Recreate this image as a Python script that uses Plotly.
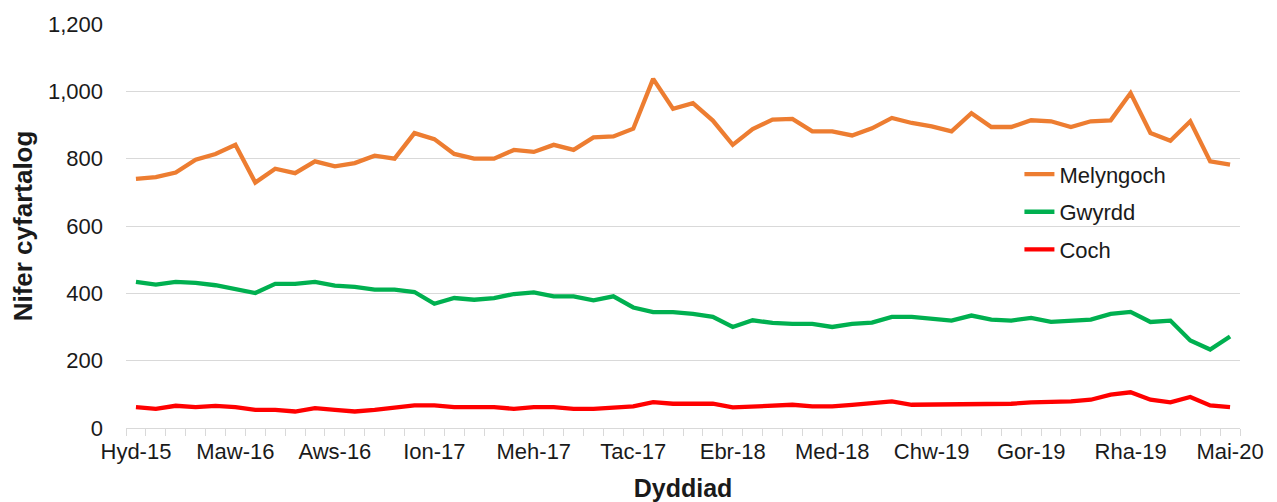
import plotly.graph_objects as go

months = ["Ion", "Chw", "Maw", "Ebr", "Mai", "Meh", "Gor", "Aws", "Med", "Hyd", "Tac", "Rha"]
# Oct 2015 .. May 2020 (56 months)
categories = []
m, y = 9, 2015
for _ in range(56):
    categories.append(f"{months[m]}-{str(y)[2:]}")
    m += 1
    if m == 12:
        m, y = 0, y + 1

melyngoch = [740, 745, 759, 797, 814, 841, 729, 770, 757, 792, 777, 787, 809, 800,
             876, 858, 814, 800, 800, 826, 820, 841, 826, 863, 866, 889, 1037, 948,
             965, 913, 841, 888, 916, 918, 881, 881, 869, 890, 921, 906, 896, 881,
             935, 894, 894, 914, 911, 894, 911, 914, 995, 876, 853, 911, 792, 782]
gwyrdd = [434, 426, 434, 431, 424, 413, 401, 428, 428, 434, 423, 419, 411, 411,
          404, 369, 386, 381, 386, 398, 403, 391, 391, 379, 391, 358, 344, 344,
          339, 330, 300, 320, 312, 309, 309, 300, 309, 313, 330, 330, 325, 319,
          334, 322, 319, 327, 315, 319, 322, 339, 345, 315, 319, 260, 233, 272]
coch = [62, 57, 66, 62, 66, 62, 54, 54, 49, 59, 54, 49, 54, 59,
        67, 67, 62, 62, 62, 57, 62, 62, 57, 57, 62, 64, 77, 72,
        72, 72, 61, 64, 69, 69, 64, 64, 69, 75, 79, 69, 69, 69,
        69, 72, 72, 76, 76, 79, 84, 99, 106, 84, 76, 92, 67, 62]

series = [("Melyngoch", melyngoch, "#ED7D31"),
          ("Gwyrdd", gwyrdd, "#00B050"),
          ("Coch", coch, "#FF0000")]

tick_text = [c if i % 5 == 0 else "" for i, c in enumerate(categories)]

fig = go.Figure()
for name, vals, col in series:
    fig.add_trace(go.Scatter(x=categories, y=vals, name=name, mode="lines",
                             legendgroup=name,
                             line=dict(color=col, width=4.3)))

font_family = "Liberation Sans, Arial, sans-serif"
fig.update_layout(
    width=1269, height=494,
    margin=dict(l=118, r=37, t=16, b=74),
    plot_bgcolor="white", paper_bgcolor="white",
    font=dict(family=font_family, size=22, color="#1a1a1a"),
    showlegend=True,
    legend=dict(x=0.802, y=0.535, xanchor="left", yanchor="middle",
                font=dict(size=22, color="#1a1a1a"), tracegroupgap=6,
                bgcolor="rgba(0,0,0,0)"),
    xaxis=dict(type="category", tickmode="array", tickvals=categories, ticktext=tick_text,
               tickson="boundaries", ticks="outside", ticklen=7, tickcolor="#d9d9d9",
               tickangle=0, automargin=False, ticklabelstandoff=8,
               showline=False, showgrid=False, zeroline=False,
               tickfont=dict(size=22, color="#1a1a1a"),
               range=[-0.5, 55.5],
               title=dict(text="<b>Dyddiad</b>", font=dict(size=25), standoff=20)),
    yaxis=dict(range=[0, 1200], dtick=200, tickformat=",", showgrid=True,
               gridcolor="#d9d9d9", gridwidth=1, zeroline=True, zerolinecolor="#d9d9d9",
               zerolinewidth=1, showline=False, ticks="", ticklabelstandoff=22,
               automargin=False,
               tickfont=dict(size=22, color="#1a1a1a"),
               title=dict(text="<b>Nifer cyfartalog</b>", font=dict(size=26), standoff=10)),
)

fig.write_html("out.html")
